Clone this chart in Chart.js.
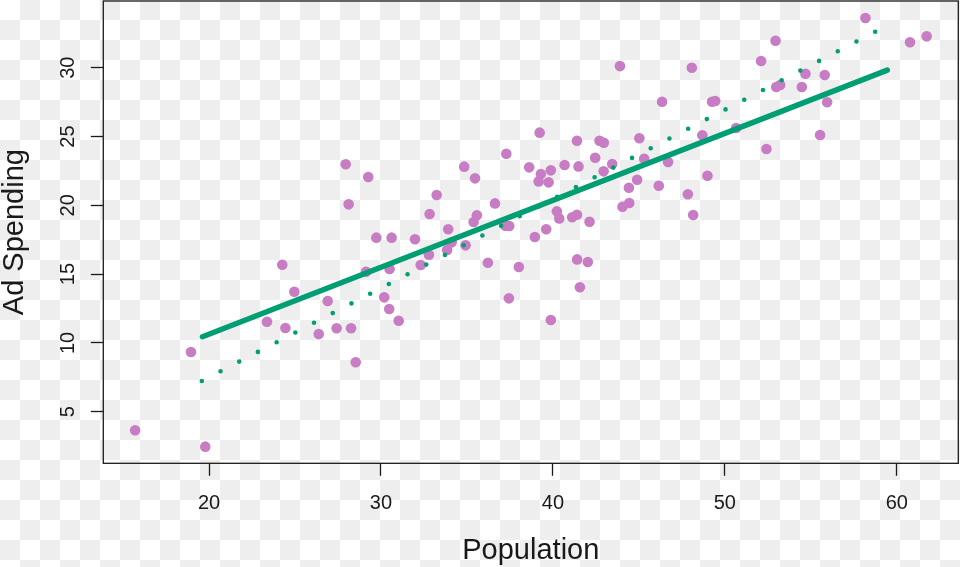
<!DOCTYPE html>
<html>
<head>
<meta charset="utf-8">
<script src="https://cdn.jsdelivr.net/npm/chart.js@4/dist/chart.umd.min.js"></script>
<style>
  html, body { margin: 0; padding: 0; }
  body {
    width: 960px; height: 567px; overflow: hidden;
    background: repeating-conic-gradient(#eeeeee 0% 25%, #ffffff 0% 50%) 0 0 / 40px 40px;
  }
  canvas { display: block; }
</style>
</head>
<body>
<canvas id="chartCanvas" width="960" height="567"></canvas>
<script>
// population (x) and ad spending (y) for each city
const population = [
  15.70, 18.95, 19.78, 23.37, 24.26, 24.44, 24.96, 26.38, 26.90, 27.42,
  27.95, 28.12, 28.26, 28.53, 29.13, 29.26, 29.73, 30.19, 30.48, 30.50,
  30.62, 31.03, 31.98, 32.31, 32.79, 32.83, 33.24, 33.85, 33.91, 34.11,
  34.84, 34.92, 35.39, 35.47, 35.58, 36.22, 36.63, 37.23, 37.29, 37.44,
  37.46, 38.02, 38.62, 38.95, 39.17, 39.23, 39.30, 39.61, 39.75, 39.88,
  39.88, 40.23, 40.37, 40.68, 41.12, 41.40, 41.40, 41.41, 41.49, 41.57,
  42.03, 42.13, 42.46, 42.71, 42.95, 42.96, 43.45, 43.90, 44.05, 44.42,
  44.44, 44.90, 45.03, 45.31, 46.16, 46.35, 46.70, 47.85, 48.08, 48.16,
  48.69, 48.99, 49.26, 49.44, 50.66, 52.11, 52.42, 52.95, 52.99, 53.22,
  54.48, 54.69, 55.54, 55.81, 55.95, 58.18, 60.77, 61.74
];
const adSpending = [
  3.65, 9.34, 2.46, 11.54, 15.68, 11.08, 13.72, 10.65, 13.05, 11.06,
  22.98, 20.07, 11.06, 8.59, 15.17, 22.06, 17.65, 13.31, 12.46, 15.37,
  17.65, 11.61, 17.53, 15.66, 16.41, 19.37, 20.75, 16.75, 18.26, 17.31,
  22.81, 17.09, 18.79, 21.96, 19.27, 15.83, 20.14, 18.52, 23.75, 13.24,
  18.50, 15.52, 22.76, 17.70, 21.74, 25.28, 22.27, 18.26, 21.67, 22.54,
  11.66, 19.56, 19.05, 22.93, 19.13, 19.32, 24.69, 16.07, 22.83, 14.04,
  15.88, 18.81, 23.46, 24.69, 22.47, 24.55, 23.00, 30.12, 19.90, 21.28,
  20.17, 21.86, 24.87, 23.39, 21.42, 27.53, 23.15, 20.80, 30.00, 19.30,
  25.09, 22.15, 27.53, 27.58, 25.62, 30.49, 24.09, 31.96, 28.60, 28.74,
  28.60, 29.56, 25.11, 29.47, 27.49, 33.61, 31.85, 32.28
];

// solid line end points
const solidLineX = [19.62, 59.45];
const solidLineY = [10.45, 29.83];
// dotted line end points
const dottedLineX = [19.58, 58.76];
const dottedLineY = [7.23, 32.62];

const xTicks = [20, 30, 40, 50, 60];
const yTicks = [5, 10, 15, 20, 25, 30];

const FONT = '"Liberation Sans", Arial, Helvetica, sans-serif';
const teal = '#009e73';
const purple = '#c77cc3';
const ink = '#1a1a1a';

function toPoints(xs, ys) {
  return xs.map((x, i) => ({x: x, y: ys[i]}));
}

// keep the plot box where R put it: no extra room for label overhang
function fixSize(s, w, h) {
  if (w) s.width = w;
  if (h) s.height = h;
  s.paddingTop = 0;
  s.paddingBottom = 0;
  s.paddingLeft = 0;
  s.paddingRight = 0;
}

// R style box round the plotting region
const plotBox = {
  id: 'plotBox',
  afterDraw(chart) {
    const {ctx, chartArea} = chart;
    ctx.save();
    ctx.strokeStyle = ink;
    ctx.lineWidth = 1.3;
    ctx.strokeRect(chartArea.left, chartArea.top,
      chartArea.right - chartArea.left, chartArea.bottom - chartArea.top);
    ctx.restore();
  }
};

const ctx = document.getElementById('chartCanvas').getContext('2d');
new Chart(ctx, {
  type: 'scatter',
  data: {
    datasets: [
      {
        label: 'solid',
        data: toPoints(solidLineX, solidLineY),
        showLine: true,
        borderColor: teal,
        borderWidth: 5.5,
        borderCapStyle: 'round',
        pointRadius: 0
      },
      {
        label: 'dotted',
        data: toPoints(dottedLineX, dottedLineY),
        showLine: true,
        borderColor: teal,
        borderWidth: 4.6,
        borderCapStyle: 'round',
        borderDash: [0, 21.07],
        pointRadius: 0
      },
      {
        label: 'cities',
        data: toPoints(population, adSpending),
        backgroundColor: purple,
        borderWidth: 0,
        pointRadius: 5.3,
        pointBorderWidth: 0
      }
    ]
  },
  options: {
    responsive: false,
    animation: false,
    devicePixelRatio: 1,
    layout: {
      autoPadding: false,
      padding: { left: 0, top: 1, right: 1.7, bottom: 0 }
    },
    plugins: {
      legend: { display: false },
      tooltip: { enabled: false }
    },
    scales: {
      x: {
        type: 'linear',
        min: 13.85,
        max: 63.58,
        afterBuildTicks: s => { s.ticks = xTicks.map(v => ({value: v})); },
        afterFit: s => fixSize(s, 0, 103.7),
        border: { display: false },
        grid: {
          drawOnChartArea: false,
          drawTicks: true,
          tickLength: 12.5,
          tickColor: ink,
          tickWidth: 1.3
        },
        ticks: {
          color: ink,
          padding: 15.5,
          maxRotation: 0,
          font: { family: FONT, size: 20 }
        },
        title: {
          display: true,
          text: 'Population',
          color: ink,
          padding: { top: 0, bottom: 2.75 },
          font: { family: FONT, size: 29, lineHeight: 0.9 }
        }
      },
      y: {
        type: 'linear',
        min: 1.25,
        max: 34.85,
        afterBuildTicks: s => { s.ticks = yTicks.map(v => ({value: v})); },
        afterFit: s => fixSize(s, 103.3, 0),
        border: { display: false },
        grid: {
          drawOnChartArea: false,
          drawTicks: true,
          tickLength: 12.5,
          tickColor: ink,
          tickWidth: 1.3
        },
        ticks: {
          color: ink,
          padding: 11.2,
          minRotation: 90,
          maxRotation: 90,
          crossAlign: 'center',
          font: { family: FONT, size: 20 }
        },
        title: {
          display: true,
          text: 'Ad Spending',
          color: ink,
          padding: { top: 2.2, bottom: 0 },
          font: { family: FONT, size: 29, lineHeight: 0.9 }
        }
      }
    }
  },
  plugins: [plotBox]
});
</script>
</body>
</html>
